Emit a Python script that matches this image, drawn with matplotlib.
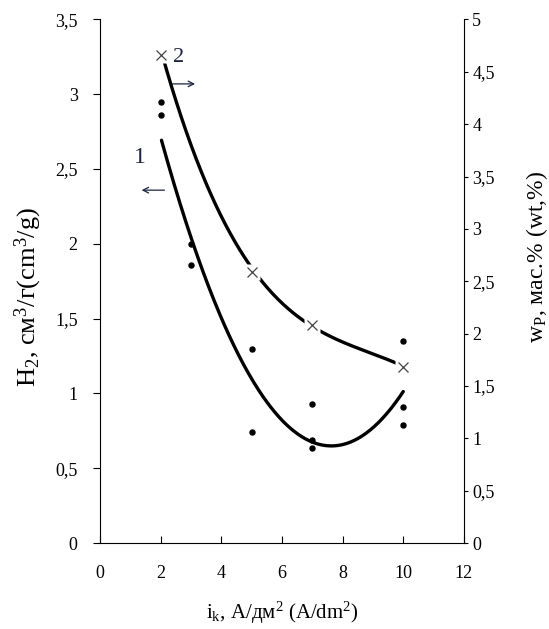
import numpy as np
import matplotlib
matplotlib.use("Agg")
import matplotlib.pyplot as plt

plt.rcParams['font.family'] = ['Liberation Serif', 'DejaVu Serif']
plt.rcParams['mathtext.fontset'] = 'custom'
plt.rcParams['mathtext.rm'] = 'Liberation Serif'
plt.rcParams['mathtext.it'] = 'Liberation Serif'

# Series 1: H2 (left axis) measured points
h2_x = [2, 2, 3, 3, 5, 5, 7, 7, 7, 10, 10, 10]
h2_y = [2.95, 2.86, 2.00, 1.86, 1.295, 0.745, 0.93, 0.69, 0.635, 1.35, 0.91, 0.79]
# Series 1 trend curve
curve1_x = [2.03, 2.42, 2.75, 3.08, 3.41, 3.69, 4.29, 4.73, 5.06, 5.39, 5.94,
            6.50, 7.04, 7.60, 8.15, 8.70, 9.25, 9.69, 10.0]
curve1_y = [2.74, 2.43, 2.16, 1.94, 1.78, 1.65, 1.41, 1.245, 1.09, 0.98, 0.82,
            0.733, 0.666, 0.655, 0.666, 0.71, 0.80, 0.91, 1.045]

# Series 2: wP (right axis) measured points
wp_x = [2, 5, 7, 10]
wp_y = [4.66, 2.59, 2.08, 1.68]
# Series 2 trend curve
curve2_x = [2.05, 2.15, 2.75, 3.30, 3.85, 4.40, 4.90, 5.39, 5.94, 6.66, 7.27,
            8.15, 8.92, 9.69, 10.0]
curve2_y = [4.65, 4.565, 4.01, 3.59, 3.245, 2.925, 2.67, 2.42, 2.29, 2.13, 2.04,
            1.92, 1.83, 1.72, 1.68]

x_ticks = [0, 2, 4, 6, 8, 10, 12]
left_ticks = [0, 0.5, 1, 1.5, 2, 2.5, 3, 3.5]
right_ticks = [0, 0.5, 1, 1.5, 2, 2.5, 3, 3.5, 4, 4.5, 5]


def fmt(v):
    return ('%g' % v).replace('.', ',')


def trend(xs, ys, deg=3):
    # spreadsheet-style polynomial trendline through the read curve points
    c = np.polyfit(xs, ys, deg)
    xx = np.linspace(xs[0], xs[-1], 300)
    return xx, np.polyval(c, xx)


fig = plt.figure(figsize=(5.49, 6.29), dpi=100)
ax = fig.add_axes([0.182, 0.1367, 0.663, 0.8323])
ax2 = ax.twinx()

ax.set_xlim(0, 12)
ax.set_ylim(0, 3.5)
ax2.set_ylim(0, 5)

sx1, sy1 = trend(curve1_x, curve1_y, 3)
ax.plot(sx1, sy1, color='black', lw=2.4, zorder=2, solid_capstyle='round')
ax.plot(h2_x, h2_y, 'o', color='black', ms=3.6, zorder=3)

sx2, sy2 = trend(curve2_x, curve2_y, 3)
ax2.plot(sx2, sy2, color='black', lw=2.4, zorder=2, solid_capstyle='round')
ax2.plot(wp_x, wp_y, 's', color='white', ms=11, mec='none', zorder=3)
ax2.plot(wp_x, wp_y, 'x', color='#444444', ms=7.5, mew=0.9, zorder=4)

for a in (ax, ax2):
    a.spines['top'].set_visible(False)
ax.spines['right'].set_visible(False)
ax2.spines['left'].set_visible(False)
ax2.spines['bottom'].set_visible(False)

ax.set_xticks(x_ticks)
ax.set_xticklabels([fmt(v) for v in x_ticks], fontsize=13)
ax.set_yticks(left_ticks)
ax.set_yticklabels([fmt(v) for v in left_ticks], fontsize=13)
ax2.set_yticks(right_ticks)
ax2.set_yticklabels([fmt(v) for v in right_ticks], fontsize=13)

ax.tick_params(axis='x', direction='in', length=5, pad=16)
ax.tick_params(axis='y', direction='out', length=5, pad=11)
ax2.tick_params(axis='y', direction='out', length=3, pad=3)

ax.set_xlabel(r'i$_{\mathrm{k}}$, А/дм$^{\mathrm{2}}$ (A/dm$^{\mathrm{2}}$)', fontsize=15)
ax.xaxis.set_label_coords(0.5, -0.108)
ax.set_ylabel(r'H$_{\mathrm{2}}$, см$^{\mathrm{3}}$/г(cm$^{\mathrm{3}}$/g)', fontsize=19)
ax.yaxis.set_label_coords(-0.155, 0.47)
ax2.set_ylabel(r'w$_{\mathrm{P}}$, мас.% (wt,%)', fontsize=17)
ax2.yaxis.set_label_coords(1.165, 0.546)

# curve labels and arrows
ax.text(0.11, 0.737, '1', transform=ax.transAxes, fontsize=17, color='#1a2340',
        ha='center', va='center')
ax.text(0.217, 0.928, '2', transform=ax.transAxes, fontsize=16, color='#1a2340',
        ha='center', va='center')
ax.annotate('', xy=(0.107, 0.674), xytext=(0.185, 0.674), xycoords='axes fraction',
            arrowprops=dict(arrowstyle='->', lw=0.9, color='#1a2340'))
ax.annotate('', xy=(0.269, 0.877), xytext=(0.192, 0.877), xycoords='axes fraction',
            arrowprops=dict(arrowstyle='->', lw=0.9, color='#1a2340'))

fig.savefig('out.png', dpi=100)
